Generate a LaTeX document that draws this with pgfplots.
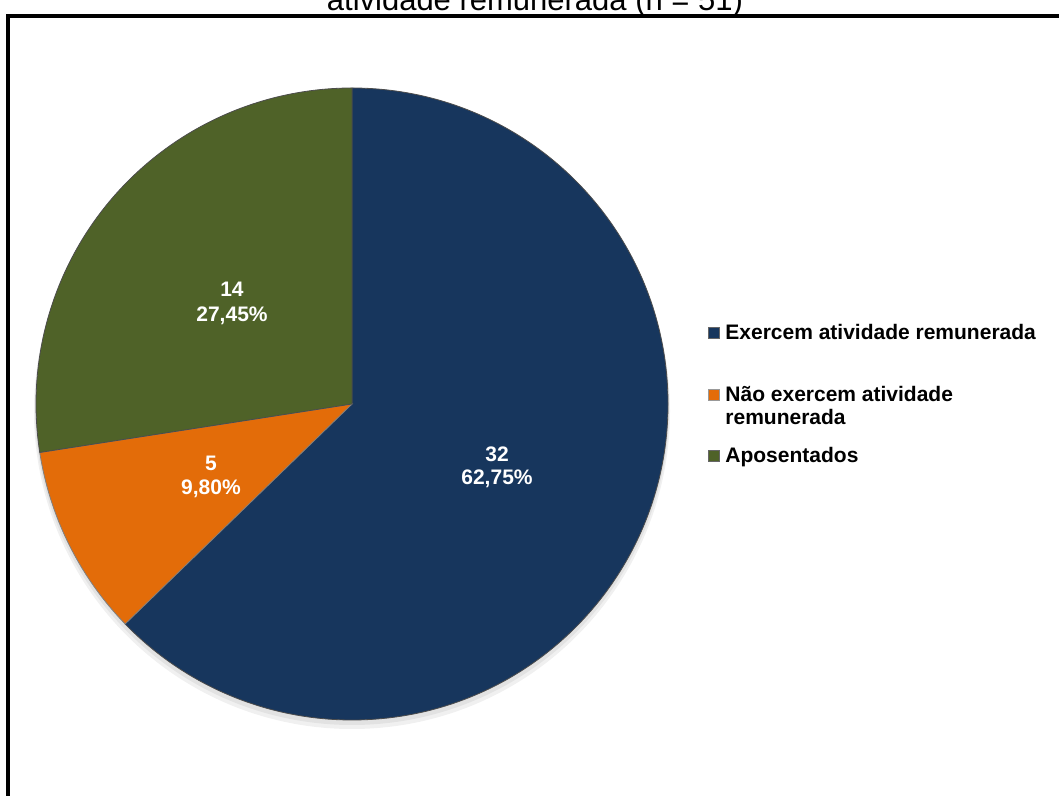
\documentclass[border=0pt]{standalone}
\usepackage{pgfplots}
\pgfplotsset{compat=1.18}
\usepackage{pgfplotstable}
\usepackage{fontspec}
\setmainfont{Liberation Sans}
\definecolor{cBlue}{HTML}{17365D}
\definecolor{cOrange}{HTML}{E36C09}
\definecolor{cGreen}{HTML}{4F6228}
\pgfplotstableread{
idx value pct
0 32 62.75
1 5 9.80
2 14 27.45
}\piedata
\begin{document}
\begin{tikzpicture}[x=0.5pt,y=0.5pt]
\pgfplotstablegetelem{0}{value}\of\piedata \let\va\pgfplotsretval
\pgfplotstablegetelem{1}{value}\of\piedata \let\vb\pgfplotsretval
\pgfplotstablegetelem{2}{value}\of\piedata \let\vc\pgfplotsretval
\pgfmathsetmacro{\total}{\va+\vb+\vc}
\pgfmathsetmacro{\aA}{90}
\pgfmathsetmacro{\aB}{90-360*\va/\total}
\pgfmathsetmacro{\aC}{\aB-360*\vb/\total}
\pgfmathsetmacro{\aD}{\aC-360*\vc/\total}
\begin{axis}[at={(0,0)}, anchor=south west, x=0.5pt, y=0.5pt,
  xmin=0, xmax=1059, ymin=0, ymax=796, hide axis, clip=false]
% frame
\draw[line width=2pt, black] (axis cs:1080,780) -- (axis cs:8,780) -- (axis cs:8,-30);
% title (partly cut off, as in the reference)
\node[anchor=base, font=\fontsize{15.5}{18}\selectfont] at (axis cs:535,785) {atividade remunerada (n = 51)};
% soft shadow below the pie
\fill[black, opacity=0.06] (axis cs:352,385) circle[radius=159pt];
\fill[black, opacity=0.06] (axis cs:352,388) circle[radius=158.5pt];
% slices
\fill[cBlue, draw=black!70, line width=0.4pt] (axis cs:352,392) -- ++(\aA:158pt) arc[start angle=\aA, end angle=\aB, radius=158pt] -- cycle;
\fill[cOrange, draw=black!50, line width=0.4pt] (axis cs:352,392) -- ++(\aB:158pt) arc[start angle=\aB, end angle=\aC, radius=158pt] -- cycle;
\fill[cGreen, draw=black!70, line width=0.4pt] (axis cs:352,392) -- ++(\aC:158pt) arc[start angle=\aC, end angle=\aD, radius=158pt] -- cycle;
% data labels
\begin{scope}[every node/.style={anchor=base, text=white, font=\fontsize{10.5}{12.6}\selectfont\bfseries}]
\node at (axis cs:497,334) {32};
\node at (axis cs:497,311) {62,75\%};
\node at (axis cs:211,325) {5};
\node at (axis cs:211,301) {9,80\%};
\node at (axis cs:232,499) {14};
\node at (axis cs:232,474) {27,45\%};
\end{scope}
% legend
\fill[cBlue, draw=black!60, line width=0.3pt] (axis cs:708,458) rectangle (axis cs:719,469);
\fill[cOrange, draw=black!40, line width=0.3pt] (axis cs:708,396) rectangle (axis cs:719,407);
\fill[cGreen, draw=black!60, line width=0.3pt] (axis cs:708,335) rectangle (axis cs:719,346);
\begin{scope}[every node/.style={anchor=base west, inner sep=0pt, font=\fontsize{10.5}{12.6}\selectfont\bfseries}]
\node at (axis cs:725,456) {Exercem atividade remunerada};
\node at (axis cs:725,394) {Não exercem atividade};
\node at (axis cs:725,371) {remunerada};
\node at (axis cs:725,333) {Aposentados};
\end{scope}
\end{axis}
\pgfresetboundingbox
\path[use as bounding box] (0,0) rectangle (1059,796);
\end{tikzpicture}
\end{document}
